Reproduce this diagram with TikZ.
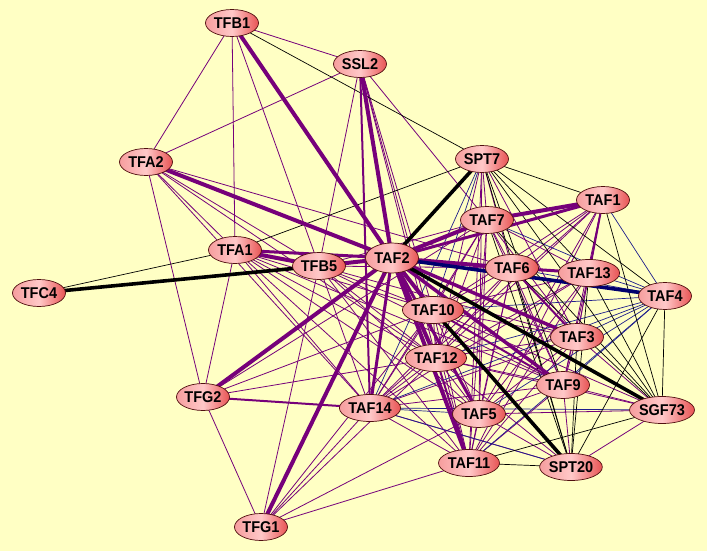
\documentclass[tikz,border=0pt]{standalone}
\usepackage{fontspec}
\setmainfont{Liberation Sans}
\newfontfamily\labfont{Liberation Sans}[FakeStretch=0.93]
\usetikzlibrary{shapes.geometric}
\pgfdeclarelayer{bg}
\pgfdeclarelayer{edges}
\pgfsetlayers{bg,edges,main}
\definecolor{bgyel}{RGB}{255,255,196}
\definecolor{pur}{RGB}{118,0,122}
\definecolor{ublue}{RGB}{30,30,140}
\definecolor{dblue}{RGB}{0,0,110}
\definecolor{nborder}{RGB}{80,15,15}
\definecolor{nleft}{RGB}{246,158,158}
\definecolor{nmid}{RGB}{255,200,200}
\definecolor{nright}{RGB}{232,84,84}
\tikzset{
  nd/.style={ellipse, draw=nborder, line width=0.7pt, left color=nleft, right color=nright, middle color=nmid,
    minimum width=53pt, minimum height=27pt, inner sep=0pt, font=\labfont\bfseries\fontsize{15.6}{16}\selectfont},
  wd/.style={minimum width=61pt},
  pthin/.style={draw=pur, line width=0.8pt},
  pmed/.style={draw=pur, line width=2pt},
  pthick/.style={draw=pur, line width=4pt},
  bthin/.style={draw=ublue, line width=0.7pt},
  kthin/.style={draw=black, line width=0.7pt},
  kthick/.style={draw=black, line width=3.6pt},
  dbthick/.style={draw=dblue, line width=3.6pt}
}
\begin{document}
\begin{tikzpicture}[x=1pt,y=-1pt]
\begin{pgfonlayer}{bg}
\fill[bgyel] (0,0) rectangle (707,551);
\end{pgfonlayer}
\useasboundingbox (0,0) rectangle (707,551);
% nodes
\node[nd] (TFB1) at (232,23) {TFB1};
\node[nd] (SSL2) at (360,64) {SSL2};
\node[nd] (TFA2) at (146,162) {TFA2};
\node[nd] (SPT7) at (482,159) {SPT7};
\node[nd] (TAF1) at (603,200) {TAF1};
\node[nd] (TAF7) at (487,220) {TAF7};
\node[nd] (TFA1) at (235,250) {TFA1};
\node[nd, minimum height=30pt] (TAF2) at (392,258) {TAF2};
\node[nd] (TFB5) at (319,266) {TFB5};
\node[nd] (TAF6) at (512,268) {TAF6};
\node[nd,wd] (TAF13) at (589,273) {TAF13};
\node[nd] (TFC4) at (39,293) {TFC4};
\node[nd] (TAF4) at (665,296) {TAF4};
\node[nd,wd] (TAF10) at (433,310) {TAF10};
\node[nd] (TAF3) at (577,337) {TAF3};
\node[nd,wd] (TAF12) at (436,358) {TAF12};
\node[nd] (TAF9) at (563,385) {TAF9};
\node[nd] (TFG2) at (203,397) {TFG2};
\node[nd,wd] (TAF14) at (370,408) {TAF14};
\node[nd] (TAF5) at (479,414) {TAF5};
\node[nd,wd] (SGF73) at (662,410) {SGF73};
\node[nd,wd] (TAF11) at (469,463) {TAF11};
\node[nd,wd] (SPT20) at (571,467) {SPT20};
\node[nd] (TFG1) at (261,527) {TFG1};
\begin{pgfonlayer}{edges}
% thin purple
\foreach \a/\b in {TFB1/SSL2,TFB1/TFA2,TFB1/TFA1,TFB1/TFB5,
 SSL2/TFA2,SSL2/TFB5,SSL2/TAF12,SSL2/TAF10,SSL2/TAF11,SSL2/TAF7,
 TFA2/TFG2,TFA2/TFA1,TFA2/TFB5,TFA2/TAF6,TFA2/TAF14,TFA2/TAF12,
 TFA1/TFG2,TFA1/TAF14,TFA1/TAF12,TFA1/TAF5,TFA1/TAF11,TFA1/TAF10,TFA1/TAF9,
 TFB5/TFG1,TFB5/TAF14,TFB5/TAF12,TFB5/TAF10,TFB5/TAF5,TFB5/TAF11,TFB5/TAF9,TFB5/TAF3,TFB5/TAF6,TFB5/TAF7,
 TFG2/TFG1,TFG2/TAF10,TFG2/TAF12,TFG2/TAF7,
 TFG1/TAF14,TFG1/TAF12,TFG1/TAF5,TFG1/TAF10,TFG1/TAF11,
 SPT7/TAF7,SPT7/TAF12,SPT7/TAF11,SPT7/TAF6,SPT7/TAF5,SPT7/TAF3,
 TAF1/TAF6,TAF1/TAF3,TAF1/TAF9,TAF1/TAF5,TAF1/TAF10,TAF1/TAF12,TAF1/TAF11,TAF1/TAF14,
 TAF2/TAF13,
 TAF3/TAF6,TAF3/TAF7,TAF3/TAF13,TAF3/TAF9,TAF3/TAF5,TAF3/TAF10,TAF3/TAF12,TAF3/TAF11,TAF3/TAF14,
 TAF5/TAF6,TAF5/TAF7,TAF5/TAF9,TAF5/TAF10,TAF5/TAF12,TAF5/TAF11,TAF5/TAF13,
 TAF6/TAF7,TAF6/TAF9,TAF6/TAF10,TAF6/TAF12,TAF6/TAF11,TAF6/TAF14,
 TAF7/TAF9,TAF7/TAF10,TAF7/TAF12,TAF7/TAF11,TAF7/TAF13,TAF7/TAF14,
 TAF9/TAF12,TAF9/TAF11,TAF9/TAF13,TAF9/TAF14,
 TAF10/TAF12,TAF10/TAF11,TAF10/TAF13,TAF10/TAF14,
 TAF11/TAF12,TAF11/TAF13,TAF11/TAF14,
 TAF12/TAF13,TAF12/TAF14,TAF13/TAF14,
 SGF73/TAF9,SGF73/TAF3,SGF73/TAF5,SGF73/TAF12,SGF73/TAF10,SGF73/SPT20,
 SPT20/TAF9,SPT20/TAF5,SPT20/TAF12,SPT20/TAF14}
  \draw[pthin] (\a.center) -- (\b.center);
% thin blue
\foreach \a/\b in {TAF4/TAF1,TAF4/TAF3,TAF4/TAF5,TAF4/TAF6,TAF4/TAF7,TAF4/TAF9,TAF4/TAF10,TAF4/TAF11,TAF4/TAF12,TAF4/TAF14,TAF4/TAF13,
 TAF14/TAF5,TAF14/SGF73,TAF14/SPT20,SPT7/TAF10,SPT7/TAF14}
  \draw[bthin] (\a.center) -- (\b.center);
% thin black
\foreach \a/\b in {TFB1/SPT7,TFA1/SPT7,TFC4/TFA1,SPT7/TAF1,SPT7/TAF4,SPT7/TAF13,SPT7/SGF73,SPT7/SPT20,SPT7/TAF9,
 SGF73/TAF4,SGF73/TAF1,SGF73/TAF13,SGF73/TAF6,SGF73/TAF7,SGF73/TAF11,
 SPT20/TAF4,SPT20/TAF13,SPT20/TAF3,SPT20/TAF11,SPT20/TAF6,SPT20/TAF7}
  \draw[kthin] (\a.center) -- (\b.center);
% medium purple
\foreach \a/\b in {TFG2/TAF14,SSL2/TAF14,TAF10/TAF9,TAF1/TAF13,TAF12/TAF11,TAF6/TAF3}
  \draw[pmed] (\a.center) -- (\b.center);
% thick purple
\foreach \a/\b/\w in {TFB1/TAF2/4,SSL2/TAF2/4,TFA2/TAF2/4,TFG2/TAF2/4,TFG1/TAF2/4,TAF14/TAF2/3,
 TFA1/TFB5/4,TFA1/TAF2/3,TFB5/TAF2/4,TAF2/TAF7/4,TAF2/TAF1/3,TAF7/TAF1/4,TAF2/TAF6/4,TAF6/TAF13/3,
 TAF2/TAF3/3.5,TAF2/TAF9/3.5,TAF2/TAF10/4,TAF2/TAF12/4,TAF2/TAF11/4,TAF2/TAF5/3}
  \draw[pthick, line width=\w pt] (\a.center) -- (\b.center);
% thick black / blue
\foreach \a/\b in {SPT7/TAF2,TAF2/SGF73,TAF10/SPT20,TFC4/TFB5}
  \draw[kthick] (\a.center) -- (\b.center);
\draw[dbthick] (TAF2.center) -- (TAF4.center);
\end{pgfonlayer}
\end{tikzpicture}
\end{document}
